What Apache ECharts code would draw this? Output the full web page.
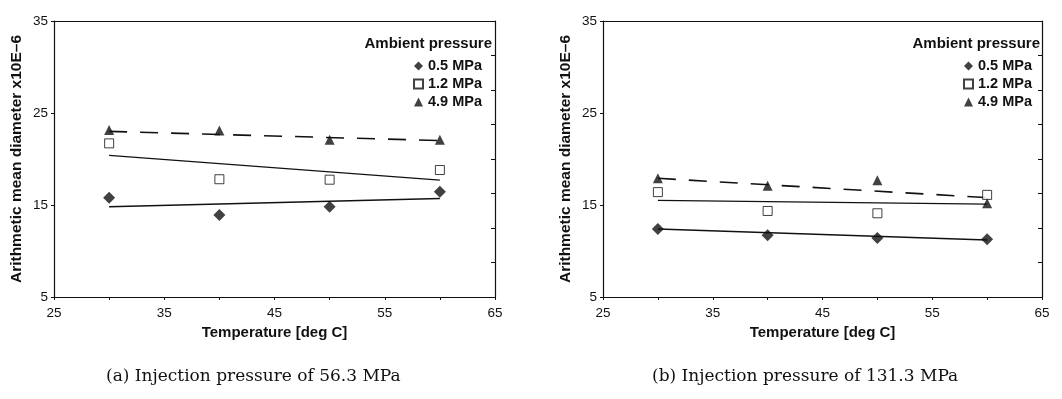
<!DOCTYPE html>
<html>
<head>
<meta charset="utf-8">
<style>
  html, body { margin: 0; padding: 0; background: #fff; }
  #chart { width: 1062px; height: 399px; }
</style>
<script src="https://cdn.jsdelivr.net/npm/echarts@6/dist/echarts.min.js"></script>
</head>
<body>
<div id="chart"></div>
<script>
// ---- Data ----
var temps = [30, 40, 50, 60];
var fitX = [30, 60];
var seriesNames = ['0.5 MPa', '1.2 MPa', '4.9 MPa'];
var xTicks = [25, 35, 45, 55, 65];
var yTicks = [5, 15, 25, 35];

// (a) Injection pressure 56.3 MPa
var a05 = [15.8, 13.9, 14.8, 16.45];
var a12 = [21.7, 17.8, 17.75, 18.8];
var a49 = [23.15, 23.1, 22.1, 22.1];
var aFit05 = [14.8, 15.7];
var aFit12 = [20.4, 17.7];
var aFit49 = [23.0, 22.0];

// (b) Injection pressure 131.3 MPa
var b05 = [12.4, 11.7, 11.4, 11.27];
var b12 = [16.4, 14.35, 14.1, 16.1];
var b49 = [17.9, 17.1, 17.7, 15.2];
var bFit05 = [12.4, 11.2];
var bFit12 = [15.5, 15.1];
var bFit49 = [17.9, 15.8];

var captions = ['(a) Injection pressure of 56.3 MPa', '(b) Injection pressure of 131.3 MPa'];
var legendTitle = 'Ambient pressure';
var xName = 'Temperature [deg C]';
var yName = 'Arithmetic mean diameter x10E\u20136';

// ---- Helpers ----
function pairs(xs, ys) { return xs.map(function (x, i) { return [x, ys[i]]; }); }

var sans = 'Liberation Sans';
var ink = '#111';

function mainX(gi) {
  return {
    type: 'value', gridIndex: gi, min: 25, max: 65, interval: 10,
    axisLine: { show: true, lineStyle: { color: ink, width: 1.2 } },
    axisTick: { show: true, length: 3, lineStyle: { color: ink } },
    minorTick: { show: true, splitNumber: 2, length: 3, lineStyle: { color: ink } },
    splitLine: { show: false },
    axisLabel: { color: ink, fontFamily: sans, fontSize: 13.5, margin: 9 },
    name: xName, nameLocation: 'middle', nameGap: 23,
    nameTextStyle: { color: ink, fontFamily: sans, fontSize: 15, fontWeight: 'bold' }
  };
}
function topX(gi) {
  return {
    type: 'value', gridIndex: gi, position: 'top', min: 25, max: 65, interval: 10,
    axisLine: { show: true, onZero: false, lineStyle: { color: ink, width: 1.2 } },
    axisTick: { show: false }, axisLabel: { show: false }, splitLine: { show: false }
  };
}
function mainY(gi) {
  return {
    type: 'value', gridIndex: gi, min: 5, max: 35, interval: 10,
    axisLine: { show: true, lineStyle: { color: ink, width: 1.2 } },
    axisTick: { show: true, length: 3, lineStyle: { color: ink } },
    splitLine: { show: false },
    axisLabel: { color: ink, fontFamily: sans, fontSize: 13.5, margin: 6 },
    name: yName, nameLocation: 'middle', nameGap: 29, nameRotate: 90,
    nameTextStyle: { color: ink, fontFamily: sans, fontSize: 15.5, fontWeight: 'bold' }
  };
}
function rightY(gi) {
  return {
    type: 'value', gridIndex: gi, position: 'right', min: 5, max: 35, interval: 3.75,
    axisLine: { show: true, onZero: false, lineStyle: { color: ink, width: 1.2 } },
    axisTick: { show: true, inside: true, length: 4, lineStyle: { color: ink } },
    axisLabel: { show: false }, splitLine: { show: false }
  };
}

var markers = [
  { symbol: 'diamond', size: 12, itemStyle: { color: ink } },
  { symbol: 'rect', size: 9, itemStyle: { color: '#fff', borderColor: ink, borderWidth: 1 } },
  { symbol: 'triangle', size: 10, itemStyle: { color: ink } }
];
var fitStyles = [
  { type: 'solid', width: 1.5 },
  { type: 'solid', width: 1.2 },
  { type: [18, 13], width: 1.6 }
];

function seriesFor(gi, pts, fits) {
  var out = [];
  for (var k = 0; k < 3; k++) {
    out.push({
      type: 'line', xAxisIndex: gi * 2, yAxisIndex: gi * 2,
      data: pairs(fitX, fits[k]), showSymbol: false, symbol: 'none', silent: true,
      lineStyle: { color: ink, width: fitStyles[k].width, type: fitStyles[k].type },
      z: 2
    });
  }
  for (var k2 = 0; k2 < 3; k2++) {
    out.push({
      type: 'scatter', name: seriesNames[k2], xAxisIndex: gi * 2, yAxisIndex: gi * 2,
      data: pairs(temps, pts[k2]), symbol: markers[k2].symbol, symbolSize: markers[k2].size,
      itemStyle: markers[k2].itemStyle, z: 5
    });
  }
  return out;
}

var legendCommon = {
  orient: 'vertical', data: seriesNames, itemWidth: 9, itemHeight: 9, itemGap: 2,
  textStyle: { color: ink, fontFamily: sans, fontSize: 14.5, fontWeight: 'bold', lineHeight: 16 },
  selectedMode: false
};

var chart = echarts.init(document.getElementById('chart'), null, { renderer: 'canvas' });
chart.setOption({
  backgroundColor: '#fff',
  animation: false,
  title: [
    { text: legendTitle, right: 570, top: 36, padding: 0, textStyle: { color: ink, fontFamily: sans, fontSize: 15, fontWeight: 'bold' } },
    { text: legendTitle, right: 22, top: 36, padding: 0, textStyle: { color: ink, fontFamily: sans, fontSize: 15, fontWeight: 'bold' } }
  ],
  legend: [
    Object.assign({ right: 580, top: 58, padding: 0 }, legendCommon),
    Object.assign({ right: 30, top: 58, padding: 0 }, legendCommon)
  ],
  grid: [
    { left: 54, right: 567, top: 21, bottom: 102 },
    { left: 603, right: 20, top: 21, bottom: 102 }
  ],
  xAxis: [mainX(0), topX(0), mainX(1), topX(1)],
  yAxis: [mainY(0), rightY(0), mainY(1), rightY(1)],
  series: [].concat(
    seriesFor(0, [a05, a12, a49], [aFit05, aFit12, aFit49]),
    seriesFor(1, [b05, b12, b49], [bFit05, bFit12, bFit49])
  ),
  graphic: [
    { type: 'text', left: 106, top: 368, style: { text: captions[0], fill: ink, font: '17px "DejaVu Serif"' } },
    { type: 'text', left: 652, top: 368, style: { text: captions[1], fill: ink, font: '17px "DejaVu Serif"' } }
  ]
});
</script>
</body>
</html>
